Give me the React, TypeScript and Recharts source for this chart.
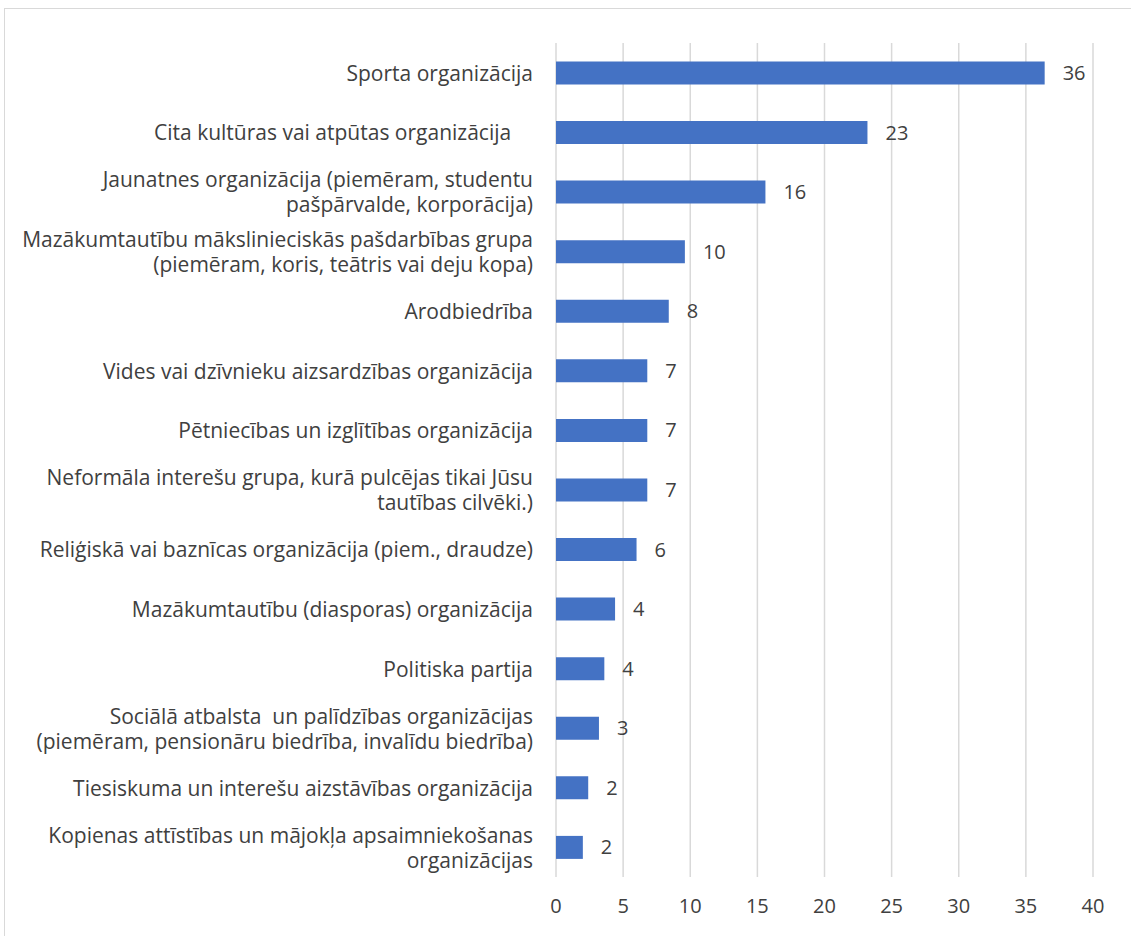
import { BarChart, Bar, XAxis, YAxis, CartesianGrid, LabelList } from "recharts";

const categories = [
  "Sporta organizācija",
  "Cita kultūras vai atpūtas organizācija\u00a0\u00a0\u00a0\u00a0",
  "Jaunatnes organizācija (piemēram, studentu\npašpārvalde, korporācija)",
  "Mazākumtautību mākslinieciskās pašdarbības grupa\n(piemēram, koris, teātris vai deju kopa)",
  "Arodbiedrība",
  "Vides vai dzīvnieku aizsardzības organizācija",
  "Pētniecības un izglītības organizācija",
  "Neformāla interešu grupa, kurā pulcējas tikai Jūsu\ntautības cilvēki.)",
  "Reliģiskā vai baznīcas organizācija (piem., draudze)",
  "Mazākumtautību (diasporas) organizācija",
  "Politiska partija",
  "Sociālā atbalsta  un palīdzības organizācijas\n(piemēram, pensionāru biedrība, invalīdu biedrība)",
  "Tiesiskuma un interešu aizstāvības organizācija",
  "Kopienas attīstības un mājokļa apsaimniekošanas\norganizācijas",
];

const values = [36.4, 23.2, 15.6, 9.6, 8.4, 6.8, 6.8, 6.8, 6.0, 4.4, 3.6, 3.2, 2.4, 2.0];
const valueLabels = ["36", "23", "16", "10", "8", "7", "7", "7", "6", "4", "4", "3", "2", "2"];
const xTicks = [0, 5, 10, 15, 20, 25, 30, 35, 40];

const data = categories.map((name, i) => ({
  name,
  value: values[i],
  label: valueLabels[i],
}));

const FONT = "'Open Sans', sans-serif";
const TEXT = "#404040";

function CategoryTick(props: any) {
  const { x, y, payload } = props;
  const lines = String(payload.value).split("\n");
  const lh = 25;
  const start = -((lines.length - 1) * lh) / 2;
  return (
    <g>
      {lines.map((l, i) => (
        <text
          key={i}
          x={x}
          y={y + start + i * lh}
          textAnchor="end"
          dominantBaseline="central"
          fill={TEXT}
          fontSize={21}
          fontFamily={FONT}
          style={{ whiteSpace: "pre" }}
        >
          {l}
        </text>
      ))}
    </g>
  );
}

export default function App() {
  return (
    <div style={{ position: "absolute", left: 0, top: 0, width: 1131, height: 936, background: "#fff" }}>
      <div
        style={{
          position: "absolute",
          left: 4,
          top: 8,
          width: 1140,
          height: 940,
          border: "1px solid #d9d9d9",
        }}
      />
      <div style={{ position: "absolute", left: 0, top: 0 }}>
        <BarChart
          width={1131}
          height={936}
          data={data}
          layout="vertical"
          margin={{ top: 43, right: 38, bottom: 0, left: 0 }}
          barCategoryGap="31%"
        >
          <CartesianGrid horizontal={false} stroke="#d9d9d9" strokeWidth={1.5} />
          <XAxis
            type="number"
            domain={[0, 40]}
            ticks={xTicks}
            axisLine={false}
            tickLine={false}
            tickSize={0}
            tickMargin={22}
            height={59}
            tick={{ fill: TEXT, fontSize: 20, fontFamily: FONT }}
          />
          <YAxis
            type="category"
            dataKey="name"
            width={556}
            axisLine={false}
            tickLine={false}
            tickSize={0}
            tickMargin={23}
            interval={0}
            tick={<CategoryTick />}
          />
          <Bar dataKey="value" fill="#4472C4" isAnimationActive={false}>
            <LabelList
              dataKey="label"
              position="right"
              offset={18}
              fill={TEXT}
              fontSize={20}
              fontFamily={FONT}
            />
          </Bar>
        </BarChart>
      </div>
    </div>
  );
}
